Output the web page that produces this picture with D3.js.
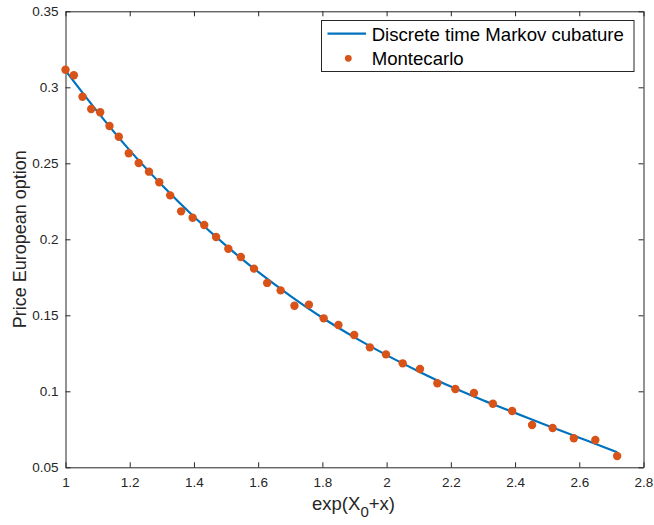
<!DOCTYPE html>
<html>
<head>
<meta charset="utf-8">
<script src="https://cdn.jsdelivr.net/npm/d3@7"></script>
<style>
  html, body { margin: 0; padding: 0; background: #fff; }
  svg { display: block; font-family: "Liberation Sans", Arial, Helvetica, sans-serif; }
</style>
</head>
<body>
<svg id="chart" width="654" height="525"></svg>
<script>
// ---- data ----
const mcX = [1.000, 1.026, 1.053, 1.080, 1.108, 1.137, 1.166, 1.197, 1.228, 1.260,
             1.292, 1.326, 1.360, 1.396, 1.432, 1.469, 1.507, 1.546, 1.587, 1.628,
             1.670, 1.713, 1.758, 1.804, 1.850, 1.899, 1.948, 1.998, 2.050, 2.104,
             2.158, 2.214, 2.272, 2.331, 2.391, 2.453, 2.517, 2.583, 2.650, 2.718];
const mcY = [0.3115, 0.3079, 0.2938, 0.2857, 0.2836, 0.2745, 0.2675, 0.2566, 0.2502, 0.2445,
             0.2375, 0.2289, 0.2184, 0.2142, 0.2094, 0.2015, 0.1938, 0.1884, 0.1807, 0.1713,
             0.1664, 0.1563, 0.1570, 0.1480, 0.1436, 0.1370, 0.1289, 0.1243, 0.1184, 0.1147,
             0.1053, 0.1015, 0.0989, 0.0918, 0.0870, 0.0778, 0.0759, 0.0691, 0.0680, 0.0574];
const lineX = [1.0, 1.1, 1.2, 1.3, 1.4, 1.5, 1.6, 1.7, 1.8, 1.9,
               2.0, 2.1, 2.2, 2.3, 2.4, 2.5, 2.6, 2.7, 2.718];
const lineY = [0.3110, 0.2838, 0.2585, 0.2357, 0.2148, 0.1958, 0.1785, 0.1628, 0.1484, 0.1355,
               0.1238, 0.1131, 0.1031, 0.0941, 0.0858, 0.0775, 0.0695, 0.0614, 0.0599];
const xTicks = [1, 1.2, 1.4, 1.6, 1.8, 2, 2.2, 2.4, 2.6, 2.8];
const yTicks = [0.05, 0.1, 0.15, 0.2, 0.25, 0.3, 0.35];
const xDomain = [1, 2.8];
const yDomain = [0.05, 0.35];
const seriesNames = ["Discrete time Markov cubature", "Montecarlo"];
const xLabelMain = "exp(X";
const xLabelSub = "0";
const xLabelEnd = "+x)";
const yLabel = "Price European option";

// ---- layout ----
const L = 65.5, R = 643.5, T = 11.3, B = 467.3;
const axisColor = "#262626";
const lineColor = "#0072BD";
const dotColor = "#D95319";

const svg = d3.select("#chart");
const x = d3.scaleLinear().domain(xDomain).range([L, R]);
const y = d3.scaleLinear().domain(yDomain).range([B, T]);
const fmt = d3.format("~g");

svg.append("rect")
  .attr("x", L).attr("y", T).attr("width", R - L).attr("height", B - T)
  .attr("fill", "#fff");

function styleAxis(g) {
  g.select(".domain").attr("stroke", axisColor).attr("stroke-width", 1);
  g.selectAll(".tick line").attr("stroke", axisColor).attr("stroke-width", 1);
  g.selectAll(".tick text").attr("fill", axisColor).attr("font-size", 13.5)
    .attr("font-family", "\"Liberation Sans\", Arial, sans-serif");
}
svg.append("g").attr("transform", `translate(0,${B})`)
  .call(d3.axisBottom(x).tickValues(xTicks).tickFormat(fmt).tickSizeInner(-5).tickSizeOuter(0).tickPadding(10))
  .call(styleAxis);
svg.append("g").attr("transform", `translate(0,${T})`)
  .call(d3.axisTop(x).tickValues(xTicks).tickFormat("").tickSizeInner(-5).tickSizeOuter(0))
  .call(styleAxis);
svg.append("g").attr("transform", `translate(${L},0)`)
  .call(d3.axisLeft(y).tickValues(yTicks).tickFormat(fmt).tickSizeInner(-5).tickSizeOuter(0).tickPadding(7))
  .call(styleAxis);
svg.append("g").attr("transform", `translate(${R},0)`)
  .call(d3.axisRight(y).tickValues(yTicks).tickFormat("").tickSizeInner(-5).tickSizeOuter(0))
  .call(styleAxis);

const lineData = lineX.map((d, i) => [d, lineY[i]]);
svg.append("path")
  .datum(lineData)
  .attr("fill", "none")
  .attr("stroke", lineColor)
  .attr("stroke-width", 2.2)
  .attr("d", d3.line().x(d => x(d[0])).y(d => y(d[1])).curve(d3.curveMonotoneX));

svg.append("g").selectAll("circle")
  .data(mcX.map((d, i) => [d, mcY[i]]))
  .join("circle")
  .attr("cx", d => x(d[0]))
  .attr("cy", d => y(d[1]))
  .attr("r", 4.2)
  .attr("fill", dotColor);

const xl = svg.append("text")
  .attr("x", (L + R) / 2 - 1).attr("y", 510)
  .attr("text-anchor", "middle")
  .attr("font-size", 18.5)
  .attr("fill", axisColor);
xl.append("tspan").text(xLabelMain);
xl.append("tspan").attr("dy", 7).attr("font-size", 15).text(xLabelSub);
xl.append("tspan").attr("dy", -7).text(xLabelEnd);

svg.append("text")
  .attr("transform", `translate(26,${(T + B) / 2}) rotate(-90)`)
  .attr("text-anchor", "middle")
  .attr("font-size", 18)
  .attr("fill", axisColor)
  .text(yLabel);

const lg = svg.append("g");
lg.append("rect")
  .attr("x", 321.5).attr("y", 20.5).attr("width", 312.5).attr("height", 51)
  .attr("fill", "#fff").attr("stroke", axisColor).attr("stroke-width", 1);
lg.append("line")
  .attr("x1", 327.5).attr("x2", 366).attr("y1", 33.7).attr("y2", 33.7)
  .attr("stroke", lineColor).attr("stroke-width", 2.2);
lg.append("circle").attr("cx", 348.3).attr("cy", 58.3).attr("r", 3.4).attr("fill", dotColor);
lg.append("text").attr("x", 371.7).attr("y", 41).attr("font-size", 18.6).attr("fill", "#000").text(seriesNames[0]);
lg.append("text").attr("x", 371.7).attr("y", 65).attr("font-size", 18.6).attr("fill", "#000").text(seriesNames[1]);
</script>
</body>
</html>
